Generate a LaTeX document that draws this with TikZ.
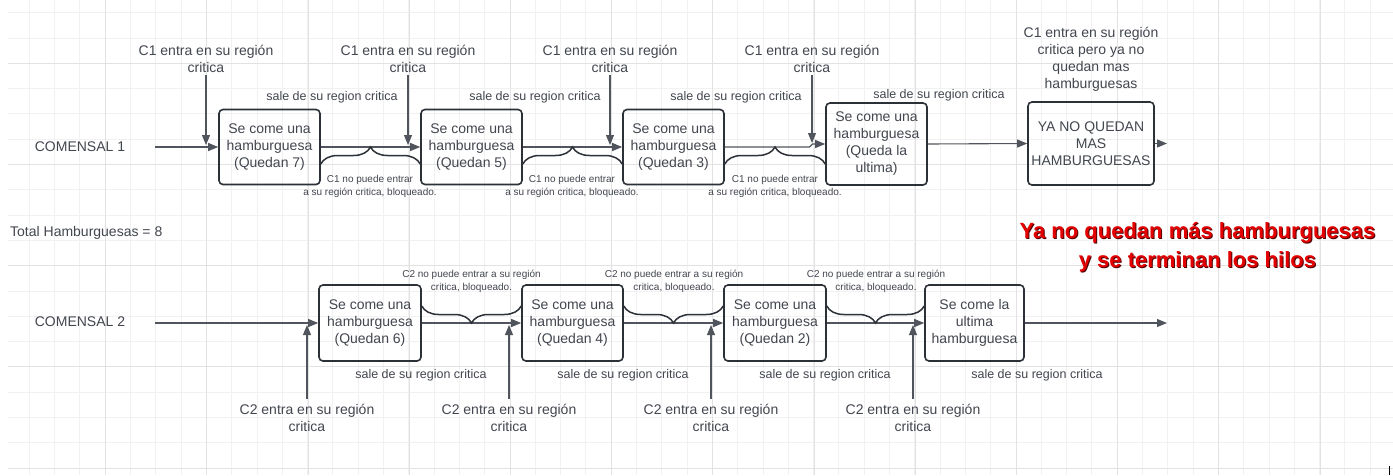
\documentclass[tikz,border=0pt]{standalone}
\usepackage{fontspec}
\setmainfont{Liberation Sans}
\usetikzlibrary{arrows.meta,decorations.pathreplacing,calc}
\definecolor{txt}{RGB}{66,70,78}
\definecolor{ln}{RGB}{80,85,93}
\definecolor{bd}{RGB}{44,48,55}
\definecolor{gmin}{RGB}{241,241,241}
\definecolor{gmaj}{RGB}{226,226,226}
\definecolor{redt}{RGB}{228,0,0}
\definecolor{redsh}{RGB}{80,0,0}
\begin{document}
\begin{tikzpicture}[x=1pt,y=-1pt,
  box/.style={draw=bd, line width=1.6pt, rounded corners=4pt, minimum width=101pt,
    minimum height=75pt, inner sep=0pt, align=center, font=\fontsize{14}{17}\selectfont, text=txt},
  lbl/.style={align=center, font=\fontsize{14}{17}\selectfont, text=txt, inner sep=0pt},
  sale/.style={font=\fontsize{12.5}{15}\selectfont, text=txt, inner sep=0pt},
  small/.style={align=center, font=\fontsize{10}{13}\selectfont, text=txt, inner sep=0pt},
  arr/.style={draw=ln, line width=1.1pt, -{Triangle[length=10pt,width=8pt]}},
  varr/.style={arr, shorten <=3pt},
  brc/.style={draw=bd, line width=1.5pt, decorate, decoration={brace, amplitude=17pt}},
  brcm/.style={draw=bd, line width=1.5pt, decorate, decoration={brace, mirror, amplitude=17pt}},
  warnst/.style={align=center, font=\fontsize{22}{29}\selectfont\bfseries, inner sep=0pt},
]
\useasboundingbox (0,0) rectangle (1393,475);
\fill[white] (0,0) rectangle (1393,475);
% grid
\foreach \k in {0,...,53}{\pgfmathsetmacro\xx{29.3+25.3*\k}
  \draw[gmin, line width=1pt] (\xx,0) -- (\xx,475);}
\foreach \j in {0,...,18}{\pgfmathsetmacro\yy{12.7+25.3*\j}
  \draw[gmin, line width=1pt] (8,\yy) -- (1393,\yy);}
\foreach \m in {0,...,12}{\pgfmathsetmacro\xx{105.7+101.2*\m}
  \draw[gmaj, line width=1pt] (\xx,0) -- (\xx,475);}
\foreach \m in {0,...,4}{\pgfmathsetmacro\yy{63.3+101.2*\m}
  \draw[gmaj, line width=1pt] (8,\yy) -- (1393,\yy);}
\draw[black, line width=1pt] (1389,466) -- (1389,475);

% row 1
\node[lbl] (c1) at (80,147) {COMENSAL 1};
\coordinate (s1) at (155,147);
\node[box] (b1) at (269.5,147) {Se come una\\hamburguesa\\(Quedan 7)};
\node[box] (b2) at (471.5,147) {Se come una\\hamburguesa\\(Quedan 5)};
\node[box] (b3) at (673.5,147) {Se come una\\hamburguesa\\(Quedan 3)};
\node[box, minimum height=82pt] (b4) at (876.5,144) {Se come una\\hamburguesa\\(Queda la\\ultima)};
\node[box, minimum width=126pt, minimum height=83pt] (b5) at (1091,143.5) {YA NO QUEDAN\\MAS\\HAMBURGUESAS};
\coordinate (j3) at (811,147);
\coordinate (f1) at (1167,143.5);

\draw[arr] (s1) -- (b1.west);
\draw[arr] (b1.east) -- (b2.west);
\draw[arr] (b2.east) -- (b3.west);
\draw[arr, rounded corners=1.5pt] (b3.east) -- (j3) |- (b4.west);
\draw[arr] (b4.east) -- (b5.west);
\draw[arr] (b5.east) -- (f1);

\node[lbl] (e1) at (206,58.5) {C1 entra en su región\\critica};
\node[lbl] (e2) at (408,58.5) {C1 entra en su región\\critica};
\node[lbl] (e3) at (610,58.5) {C1 entra en su región\\critica};
\node[lbl] (e4) at (812,58.5) {C1 entra en su región\\critica};
\node[lbl] (e5) at (1091,59) {C1 entra en su región\\critica pero ya no\\quedan mas\\hamburguesas};
\coordinate (t1) at (206,145);
\coordinate (t2) at (408,145);
\coordinate (t3) at (610,145);
\coordinate (t4) at (812,143);
\draw[varr] (e1.south) -- (t1);
\draw[varr] (e2.south) -- (t2);
\draw[varr] (e3.south) -- (t3);
\draw[varr] (e4.south) -- (t4);

\node[sale] (r1) at (332,97) {sale de su region critica};
\node[sale] (r2) at (535,97) {sale de su region critica};
\node[sale] (r3) at (736,97) {sale de su region critica};
\node[sale] (r4) at (939,95) {sale de su region critica};

\draw[brc] ($(b1.east)+(0,17)$) -- ($(b2.west)+(0,17)$);
\draw[brc] ($(b2.east)+(0,17)$) -- ($(b3.west)+(0,17)$);
\draw[brc] ($(b3.east)+(0,17)$) -- ($(b4.west)+(0,20)$);
\node[small] (k1) at (370,186.5) {C1 no puede entrar\\a su región critica, bloqueado.};
\node[small] (k2) at (572,186.5) {C1 no puede entrar\\a su región critica, bloqueado.};
\node[small] (k3) at (775,186.5) {C1 no puede entrar\\a su región critica, bloqueado.};

\node[lbl, anchor=west] (tot) at (10,233) {Total Hamburguesas = 8};

% row 2
\node[lbl] (c2) at (80,322) {COMENSAL 2};
\coordinate (s2) at (155,323);
\node[box, minimum height=76pt, minimum width=102pt] (b6) at (370,323) {Se come una\\hamburguesa\\(Quedan 6)};
\node[box, minimum height=76pt] (b7) at (572.5,323) {Se come una\\hamburguesa\\(Quedan 4)};
\node[box, minimum height=76pt, minimum width=102pt] (b8) at (775,323) {Se come una\\hamburguesa\\(Quedan 2)};
\node[box, minimum height=76pt, minimum width=99pt] (b9) at (974.5,323) {Se come la\\ultima\\hamburguesa};
\coordinate (f2) at (1167,323);

\draw[arr] (s2) -- (b6.west);
\draw[arr] (b6.east) -- (b7.west);
\draw[arr] (b7.east) -- (b8.west);
\draw[arr] (b8.east) -- (b9.west);
\draw[arr] (b9.east) -- (f2);

\node[lbl] (g1) at (307,418) {C2 entra en su región\\critica};
\node[lbl] (g2) at (509,418) {C2 entra en su región\\critica};
\node[lbl] (g3) at (711,418) {C2 entra en su región\\critica};
\node[lbl] (g4) at (913,418) {C2 entra en su región\\critica};
\coordinate (u1) at (307,325);
\coordinate (u2) at (509,325);
\coordinate (u3) at (711,325);
\coordinate (u4) at (913,325);
\draw[arr, shorten <=5pt] (g1.north) -- (u1);
\draw[arr, shorten <=5pt] (g2.north) -- (u2);
\draw[arr, shorten <=5pt] (g3.north) -- (u3);
\draw[arr, shorten <=5pt] (g4.north) -- (u4);

\node[sale] (q1) at (421,375) {sale de su region critica};
\node[sale] (q2) at (623,375) {sale de su region critica};
\node[sale] (q3) at (825,375) {sale de su region critica};
\node[sale] (q4) at (1037,375) {sale de su region critica};

\draw[brcm] ($(b6.east)+(0,-17)$) -- ($(b7.west)+(0,-17)$);
\draw[brcm] ($(b7.east)+(0,-17)$) -- ($(b8.west)+(0,-17)$);
\draw[brcm] ($(b8.east)+(0,-17)$) -- ($(b9.west)+(0,-17)$);
\node[small] (h1) at (471.5,281.5) {C2 no puede entrar a su región\\critica, bloqueado.};
\node[small] (h2) at (674,281.5) {C2 no puede entrar a su región\\critica, bloqueado.};
\node[small] (h3) at (876,281.5) {C2 no puede entrar a su región\\critica, bloqueado.};

% red message
\node[warnst, text=redsh] (wsh) at (1198.5,248.5) {Ya no quedan más hamburguesas\\y se terminan los hilos};
\node[warnst, text=redt] (warn) at (1197.5,247.5) {Ya no quedan más hamburguesas\\y se terminan los hilos};
\end{tikzpicture}
\end{document}
